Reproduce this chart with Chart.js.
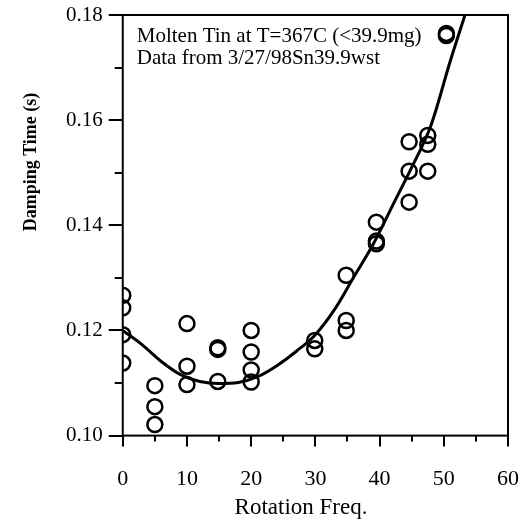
<!DOCTYPE html>
<html>
<head>
<meta charset="utf-8">
<script src="https://cdn.jsdelivr.net/npm/chart.js@4/dist/chart.umd.min.js"></script>
<style>
  html, body { margin: 0; padding: 0; background: #fff; }
  canvas { display: block; }
</style>
</head>
<body>
<canvas id="dampChart" width="525" height="526"></canvas>
<script>
// measured points (rotation freq vs damping time)
const freqs   = [0, 0, 0, 0, 5, 5, 5, 10, 10, 10, 14.8, 14.8, 14.8, 20, 20, 20, 20,
                 29.9, 29.9, 34.8, 34.8, 34.8, 39.5, 39.5, 39.5, 44.6, 44.6, 44.6,
                 47.5, 47.5, 47.5, 50.4, 50.4];
const damping = [0.1267, 0.1243, 0.1192, 0.1138, 0.1095, 0.1055, 0.1021,
                 0.1213, 0.1132, 0.1097, 0.1167, 0.1164, 0.1103,
                 0.1200, 0.1159, 0.1125, 0.1102, 0.1181, 0.1165,
                 0.1305, 0.1219, 0.1200, 0.1406, 0.1370, 0.1365,
                 0.1559, 0.1503, 0.1444, 0.1571, 0.1554, 0.1503, 0.1765, 0.1761];

// fitted curve
const fitFreq    = [0, 3, 6, 9, 12, 15, 18, 21, 24, 27, 30, 33, 36, 39, 42, 45, 48, 51, 53.3];
const fitDamping = [0.1200, 0.1173, 0.1141, 0.1116, 0.1103, 0.1099, 0.1101, 0.1112, 0.1133,
                    0.1160, 0.1192, 0.1240, 0.1302, 0.1364, 0.1437, 0.1510, 0.1590, 0.1712, 0.1800];

const xTicks = [0, 10, 20, 30, 40, 50, 60];
const xMinor = [5, 15, 25, 35, 45, 55];
const yTicks = [0.10, 0.12, 0.14, 0.16, 0.18];
const yMinor = [0.11, 0.13, 0.15, 0.17];

const noteLines = ['Molten Tin at T=367C (<39.9mg)', 'Data from 3/27/98Sn39.9wst'];

const serif = '"Liberation Serif", "DejaVu Serif", serif';

// frame, tick marks and texts drawn over the chart
const framePlugin = {
  id: 'frame',
  afterDraw(chart) {
    const { ctx, chartArea: a, scales: { x, y } } = chart;
    ctx.save();
    ctx.strokeStyle = '#000';
    ctx.lineWidth = 2;
    ctx.strokeRect(a.left, a.top, a.right - a.left, a.bottom - a.top);

    ctx.beginPath();
    xTicks.concat(xMinor).forEach(v => {
      const px = Math.round(x.getPixelForValue(v));
      const len = xTicks.includes(v) ? 11 : 6;
      ctx.moveTo(px, a.bottom);
      ctx.lineTo(px, a.bottom + len);
    });
    yTicks.concat(yMinor).forEach(v => {
      const py = Math.round(y.getPixelForValue(v));
      const len = yTicks.includes(v) ? 14 : 8;
      ctx.moveTo(a.left - len, py);
      ctx.lineTo(a.left, py);
    });
    ctx.stroke();

    ctx.fillStyle = '#000';
    ctx.textBaseline = 'middle';
    ctx.font = '21px ' + serif;
    ctx.textAlign = 'left';
    noteLines.forEach((t, i) => ctx.fillText(t, a.left + 14, 36 + i * 22));

    ctx.textAlign = 'center';
    ctx.font = '23px ' + serif;
    ctx.fillText('Rotation Freq.', 301, 508);

    ctx.translate(31, 162);
    ctx.rotate(-Math.PI / 2);
    ctx.font = 'bold 18px ' + serif;
    ctx.fillText('Damping Time (s)', 0, 0);
    ctx.restore();
  }
};

const pts = freqs.map((f, i) => ({ x: f, y: damping[i] }));
const fit = fitFreq.map((f, i) => ({ x: f, y: fitDamping[i] }));

// invisible grid ticks only keep the labels away from the axes
const hiddenGrid = len => ({
  display: true, drawOnChartArea: false, drawTicks: true,
  tickLength: len, tickColor: 'rgba(0,0,0,0)'
});

new Chart(document.getElementById('dampChart'), {
  type: 'scatter',
  data: {
    datasets: [
      {
        label: 'fit',
        data: fit,
        showLine: true,
        borderColor: '#000',
        borderWidth: 3,
        pointRadius: 0,
        cubicInterpolationMode: 'monotone',
        fill: false
      },
      {
        label: 'data',
        data: pts,
        pointStyle: 'circle',
        pointRadius: 7.5,
        borderWidth: 2.5,
        borderColor: '#000',
        backgroundColor: 'rgba(0,0,0,0)'
      }
    ]
  },
  options: {
    responsive: false,
    animation: false,
    layout: { autoPadding: false, padding: { left: 66, right: 17, top: 15, bottom: 34 } },
    plugins: { legend: { display: false }, tooltip: { enabled: false } },
    scales: {
      x: {
        type: 'linear',
        min: 0,
        max: 60,
        afterBuildTicks: s => { s.ticks = xTicks.map(v => ({ value: v })); },
        grid: hiddenGrid(30),
        border: { display: false },
        ticks: { color: '#000', padding: 0, maxRotation: 0, font: { family: serif, size: 22 } }
      },
      y: {
        type: 'linear',
        min: 0.10,
        max: 0.18,
        afterBuildTicks: s => { s.ticks = yTicks.map(v => ({ value: v })); },
        grid: hiddenGrid(20),
        border: { display: false },
        ticks: {
          color: '#000',
          padding: 0,
          font: { family: serif, size: 21 },
          callback: v => v.toFixed(2)
        }
      }
    }
  },
  plugins: [framePlugin]
});
</script>
</body>
</html>
